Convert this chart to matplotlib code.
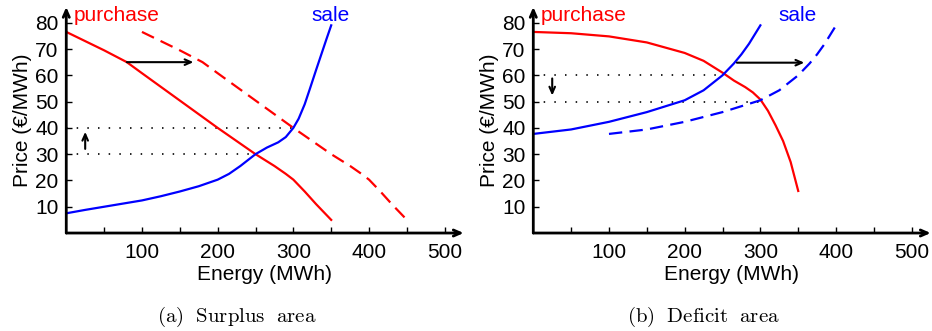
import matplotlib.pyplot as plt

plt.rcParams['font.family'] = ['Liberation Sans', 'DejaVu Sans']
plt.rcParams['mathtext.fontset'] = 'cm'

RED = '#ff0000'
BLUE = '#0000ff'

# (a) surplus area: purchase curve moves right
a_buy_x = [0, 25, 50, 80, 100, 125, 150, 175, 200, 225, 250, 275, 290, 300, 315, 330, 350]
a_buy_y = [76.5, 73, 69.5, 65, 60.8, 55.6, 50.4, 45.2, 40, 35, 30, 25.5, 22.5, 20.3, 15.8, 11, 5]
a_buy2_x = [100, 125, 150, 180, 200, 225, 250, 275, 300, 325, 350, 375, 390, 400, 415, 430, 450]
a_buy2_y = [76.5, 73, 69.5, 65, 60.8, 55.6, 50.4, 45.2, 40, 35, 30, 25.5, 22.5, 20.3, 15.8, 11, 5]
a_sell_x = [0, 25, 50, 75, 100, 125, 150, 175, 200, 215, 230, 250, 265, 280, 290, 300,
            307, 315, 322, 330, 337, 344, 350]
a_sell_y = [7.5, 8.8, 10, 11.2, 12.4, 14, 15.8, 17.8, 20.3, 22.5, 25.5, 30, 32.5, 34.5, 36.5, 40,
            43.5, 49, 55, 62, 68, 74, 79]
a_levels = [30, 40]
a_level_ends = [250, 300]

# (b) deficit area: sale curve moves right
b_buy_x = [0, 50, 100, 150, 200, 225, 250, 265, 280, 290, 300, 310, 320, 330, 340, 350]
b_buy_y = [76.5, 76, 74.8, 72.5, 68.5, 65.5, 61, 58, 55.5, 53.5, 50.8, 46.5, 41, 35, 27, 16]
b_sell_x = [0, 50, 100, 150, 200, 225, 250, 265, 275, 285, 300]
b_sell_y = [37.7, 39.4, 42.3, 46, 50.5, 54.3, 60, 64.5, 68, 72, 79]
b_sell2_x = [100, 150, 200, 250, 300, 325, 350, 365, 375, 385, 400]
b_sell2_y = [37.7, 39.4, 42.3, 46, 50.5, 54.3, 60, 64.5, 68, 72, 79]
b_levels = [60, 50]
b_level_ends = [250, 303]

x_ticks = [100, 200, 300, 400, 500]
y_ticks = [10, 20, 30, 40, 50, 60, 70, 80]


def arrow(ax, start, end, lw=1.5):
    ax.annotate('', xy=end, xytext=start,
                arrowprops=dict(arrowstyle='->,head_length=0.45,head_width=0.2',
                                lw=lw, color='black', shrinkA=0, shrinkB=0))


def setup_axes(ax):
    ax.set_xlim(0, 525)
    ax.set_ylim(0, 86)
    for s in ax.spines.values():
        s.set_visible(False)
    # axes drawn as arrows
    ax.annotate('', xy=(525, 0), xytext=(0, 0), annotation_clip=False,
                arrowprops=dict(arrowstyle='->,head_length=0.5,head_width=0.22',
                                lw=2, color='black', shrinkA=0, shrinkB=0))
    ax.annotate('', xy=(0, 86), xytext=(0, 0), annotation_clip=False,
                arrowprops=dict(arrowstyle='->,head_length=0.5,head_width=0.22',
                                lw=2, color='black', shrinkA=0, shrinkB=0))
    ax.set_xticks(x_ticks)
    ax.set_xticks([50, 150, 250, 350, 450], minor=True)
    ax.set_yticks(y_ticks)
    ax.tick_params(axis='both', direction='in', length=4, width=1, labelsize=15)
    ax.tick_params(axis='x', which='minor', direction='in', length=4, width=1)
    ax.tick_params(axis='x', pad=7)
    ax.tick_params(axis='y', pad=5.5)
    ax.set_xlabel('Energy (MWh)', fontsize=15, labelpad=2)
    ax.set_ylabel('Price (€/MWh)', fontsize=15, labelpad=2)


def dotted(ax, levels, ends):
    for lv, end in zip(levels, ends):
        ax.plot([0, end], [lv, lv], color='black', lw=1.2, ls=(0, (0.9, 5.5)))


fig = plt.figure(figsize=(9.32, 3.31), dpi=100)
ax_a = fig.add_axes([0.0711, 0.296, 0.4264, 0.683])
ax_b = fig.add_axes([0.5722, 0.296, 0.4264, 0.683])

setup_axes(ax_a)
dotted(ax_a, a_levels, a_level_ends)
ax_a.plot(a_buy_x, a_buy_y, color=RED, lw=1.6)
ax_a.plot(a_buy2_x, a_buy2_y, color=RED, lw=1.6, ls=(0, (6, 3.3)))
ax_a.plot(a_sell_x, a_sell_y, color=BLUE, lw=1.6)
arrow(ax_a, (80, 65), (168, 65))
arrow(ax_a, (25, 32), (25, 38.5))
ax_a.text(10, 80.7, 'purchase', color=RED, fontsize=15, va='baseline')
ax_a.text(324, 80.7, 'sale', color=BLUE, fontsize=15, va='baseline')

setup_axes(ax_b)
dotted(ax_b, b_levels, b_level_ends)
ax_b.plot(b_buy_x, b_buy_y, color=RED, lw=1.6)
ax_b.plot(b_sell_x, b_sell_y, color=BLUE, lw=1.6)
ax_b.plot(b_sell2_x, b_sell2_y, color=BLUE, lw=1.6, ls=(0, (6, 3.3)))
arrow(ax_b, (269, 64.8), (358, 64.8))
arrow(ax_b, (25, 58.8), (25, 52.3))
ax_b.text(10, 80.7, 'purchase', color=RED, fontsize=15, va='baseline')
ax_b.text(324, 80.7, 'sale', color=BLUE, fontsize=15, va='baseline')

fig.text(0.254, 0.042, r'$\mathrm{(a)\ \ Surplus\ \ area}$', fontsize=15, ha='center', va='center')
fig.text(0.755, 0.042, r'$\mathrm{(b)\ \ Deficit\ \ area}$', fontsize=15, ha='center', va='center')

fig.savefig('out.png', dpi=100)
